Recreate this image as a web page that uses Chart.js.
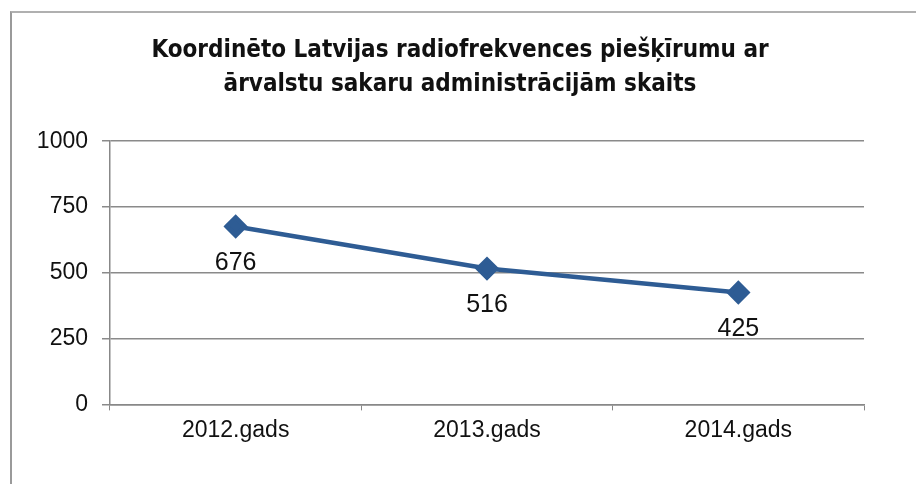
<!DOCTYPE html>
<html>
<head>
<meta charset="utf-8">
<script src="https://cdn.jsdelivr.net/npm/chart.js@4.4.1/dist/chart.umd.min.js"></script>
<style>
  html, body { margin: 0; padding: 0; background: #fff; }
  #wrap { position: relative; width: 916px; height: 484px; }
  #frame { position: absolute; left: 10px; top: 11px; width: 910px; height: 480px;
           border-left: 2px solid #9a9a9a; border-top: 2px solid #b0b0b0; }
  canvas { position: absolute; left: 0; top: 0; }
</style>
</head>
<body>
<div id="wrap">
  <div id="frame"></div>
  <canvas id="c" width="916" height="484"></canvas>
</div>
<script>
// dati
const years = ['2012.gads', '2013.gads', '2014.gads'];
const assignments = [676, 516, 425];
const yTicks = [0, 250, 500, 750, 1000];

const titleLines = ['Koordinēto Latvijas radiofrekvences piešķīrumu ar',
                    'ārvalstu sakaru administrācijām skaits'];

// vērtības zem punktiem
const valueLabels = {
  id: 'valueLabels',
  afterDatasetsDraw(chart) {
    const ctx = chart.ctx;
    const meta = chart.getDatasetMeta(0);
    ctx.save();
    ctx.font = '25px "Liberation Sans", Arial, sans-serif';
    ctx.fillStyle = '#111';
    ctx.textAlign = 'center';
    ctx.textBaseline = 'middle';
    meta.data.forEach((pt, i) => {
      ctx.fillText(String(assignments[i]), pt.x, pt.y + 37);
    });
    ctx.restore();
  }
};

const ctx = document.getElementById('c').getContext('2d');
new Chart(ctx, {
  type: 'line',
  data: {
    labels: years,
    datasets: [{
      data: assignments,
      borderColor: '#2e5c94',
      backgroundColor: '#2e5c94',
      borderWidth: 4.5,
      pointStyle: 'rectRot',
      pointRadius: 9,
      pointHoverRadius: 9,
      tension: 0,
      fill: false
    }]
  },
  options: {
    responsive: false,
    animation: false,
    layout: { padding: { left: 10, right: 6, top: 0, bottom: 34 } },
    scales: {
      x: {
        offset: true,
        grid: { offset: true, drawOnChartArea: false, drawTicks: true, tickLength: 6, color: '#888' },
        border: { color: '#888', width: 1.5 },
        ticks: { color: '#111', padding: 6, font: { family: '"Liberation Sans", Arial, sans-serif', size: 23 } }
      },
      y: {
        min: 0,
        max: 1000,
        afterBuildTicks(scale) { scale.ticks = yTicks.map(v => ({ value: v })); },
        afterFit(scale) { scale.width = 100; },
        grid: { color: '#8a8a8a', lineWidth: 1.5, tickLength: 8 },
        border: { color: '#888', width: 1.5 },
        ticks: {
          color: '#111', padding: 14,
          font: { family: '"Liberation Sans", Arial, sans-serif', size: 23 },
          callback: v => String(v)
        }
      },
      // empty right margin so the title centres over the whole frame
      yRight: {
        position: 'right',
        min: 0,
        max: 1000,
        afterFit(scale) { scale.width = 46; },
        grid: { display: false },
        border: { display: false },
        ticks: { display: false }
      }
    },
    plugins: {
      legend: { display: false },
      tooltip: { enabled: false },
      title: {
        display: true,
        text: titleLines,
        color: '#111',
        font: { family: '"Liberation Sans Narrow", "DejaVu Sans Condensed", sans-serif', size: 24, weight: 'bold', lineHeight: 1.42 },
        padding: { top: 34, bottom: 39 }
      }
    }
  },
  plugins: [valueLabels]
});
</script>
</body>
</html>
